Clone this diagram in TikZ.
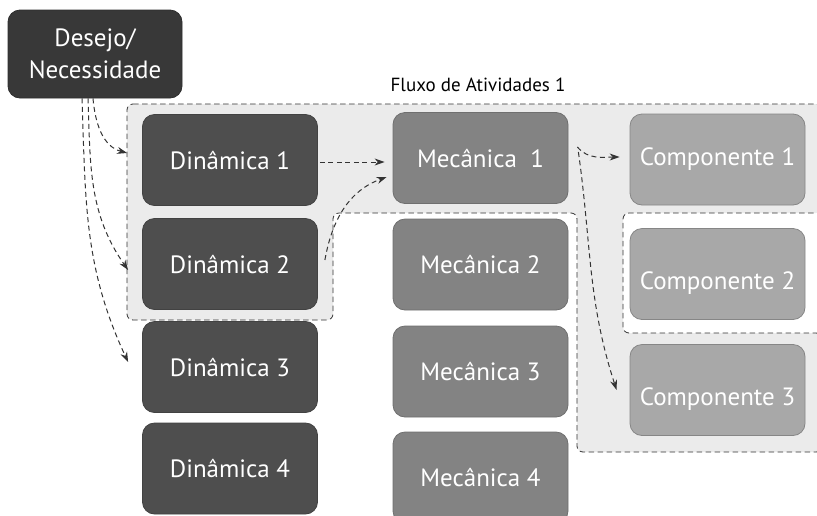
\documentclass[tikz,border=0pt]{standalone}
\usepackage{fontspec}
\setmainfont{PT Sans}
\usetikzlibrary{arrows.meta}

\definecolor{desfill}{HTML}{383838}
\definecolor{dinfill}{HTML}{4E4E4E}
\definecolor{mecfill}{HTML}{838383}
\definecolor{compfill}{HTML}{A8A8A8}
\definecolor{regfill}{HTML}{EBEBEB}
\definecolor{dashgray}{HTML}{333333}

\begin{document}
\begin{tikzpicture}[x=1pt,y=1pt]
% Box styles
\tikzset{
    box/.style={rounded corners=12pt, minimum width=175pt, minimum height=91pt,
        inner sep=0pt, line width=0.8pt, text=white, font=\fontsize{25}{32}\selectfont},
    desbox/.style={box, fill=desfill, draw=desfill!80!black, minimum width=174pt, minimum height=88pt, align=center},
    dinbox/.style={box, fill=dinfill, draw=dinfill!85!black},
    mecbox/.style={box, fill=mecfill, draw=mecfill!85!black},
    compbox/.style={box, fill=compfill, draw=compfill!80!black},
    lowtext/.style={text height=35pt, text depth=5pt},
    fluxo/.style={draw=dashgray, line width=1pt, dash pattern=on 5pt off 3.5pt,
        -{Stealth[length=10pt,width=7pt]}},
    region/.style={fill=regfill, draw=dashgray, line width=0.8pt, dash pattern=on 5.5pt off 3.5pt, rounded corners=6pt}
}
\useasboundingbox (0,0) rectangle (817,-515);

% Activity flow region
\draw[region] (127,-104) -- (822,-104) -- (822,-213) -- (623,-213) -- (623,-333) -- (822,-333)
    -- (822,-452) -- (577,-452) -- (577,-213) -- (333,-213) -- (333,-320) -- (127,-320) -- cycle;
\node[font=\fontsize{19}{23}\selectfont] (FL) at (478,-85) {Fluxo de Atividades 1};

% Nodes
\node[desbox] (DN) at (95,-54) {Desejo/\\Necessidade};

\node[dinbox] (D1) at (230,-160) {Dinâmica 1};
\node[dinbox] (D2) at (230,-264) {Dinâmica 2};
\node[dinbox] (D3) at (230,-367) {Dinâmica 3};
\node[dinbox] (D4) at (230,-468.5) {Dinâmica 4};

\node[mecbox] (M1) at (480.5,-158) {Mecânica~ 1};
\node[mecbox] (M2) at (480.5,-264.5) {Mecânica 2};
\node[mecbox] (M3) at (480.5,-371.5) {Mecânica 3};
\node[mecbox] (M4) at (480.5,-477.5) {Mecânica 4};

\node[compbox] (C1) at (717.5,-159.5) {Componente 1};
\node[compbox, lowtext] (C2) at (717.5,-274) {Componente 2};
\node[compbox, lowtext] (C3) at (717.5,-390) {Componente 3};

% Connections
\draw[fluxo] ([xshift=-2pt]DN.south) to[out=-85, in=165] ([xshift=-15pt, yshift=7pt]D1.west);
\draw[fluxo] ([xshift=-7pt]DN.south) to[out=-88, in=125] ([xshift=-14pt, yshift=-6pt]D2.west);
\draw[fluxo] ([xshift=-13pt]DN.south) to[out=-88, in=115] ([xshift=-14pt, yshift=5pt]D3.west);

\draw[fluxo] ([xshift=2pt, yshift=-2pt]D1.east) -- ([xshift=-8pt, yshift=-4pt]M1.west);
\draw[fluxo] ([xshift=7pt, yshift=4pt]D2.east) to[out=80, in=200] ([xshift=-6pt, yshift=-19pt]M1.west);

\draw[fluxo] ([xshift=9pt, yshift=11pt]M1.east) to[out=-50, in=180] ([xshift=-10pt, yshift=2.5pt]C1.west);
\draw[fluxo] ([xshift=10pt, yshift=6pt]M1.east) to[out=-82, in=108] ([xshift=-13pt]C3.west);
\end{tikzpicture}
\end{document}
